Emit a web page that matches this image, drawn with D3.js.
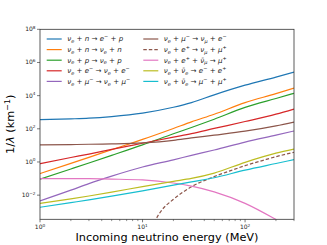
<!DOCTYPE html>
<html lang="en">
<head>
  <meta charset="UTF-8">
  <title>Neutrino mean free path</title>
  <style>
    body { margin: 0; background: white; }
    svg { display: block; font-family: "DejaVu Sans", sans-serif; }
    text { white-space: pre; }
  </style>
  <script src="https://cdn.jsdelivr.net/npm/d3@7"></script>
</head>
<body>
<svg id="chart" width="327" height="245"></svg>
<script>
// energies (MeV) shared by most curves
var energy = [1, 2, 3, 5, 10, 20, 30, 50, 100, 200, 300];
var nuN_cc   = [355, 398, 437, 550, 891, 2000, 3800, 11200, 42700, 132000, 263000];
var nuN_nc   = [0.20, 0.83, 1.9, 5.5, 22.9, 105, 263, 759, 3800, 13200, 28800];
var nuP_nc   = [0.093, 0.38, 0.87, 2.5, 10.7, 50, 120, 380, 1950, 6760, 13800];
var nuE      = [0.79, 1.86, 3.0, 5.75, 13.5, 31.6, 51, 105, 275, 760, 1550];
var nuMu_nc  = [0.0045, 0.02, 0.05, 0.141, 0.50, 1.35, 2.5, 5.25, 15.8, 41.7, 74];
var nuMu_cc  = [10.7, 11.2, 11.7, 12.3, 14.1, 20, 28.2, 41.7, 72.4, 151, 257];
var nuEp_abs = [0.100, 0.100, 0.098, 0.093, 0.083, 0.054, 0.035, 0.0158, 0.0032, 0.00034, 0.00008];
var nuNubar_e  = [0.0032, 0.006, 0.0089, 0.0151, 0.033, 0.068, 0.102, 0.214, 0.955, 3.4, 6.0];
var nuNubar_mu = [0.00186, 0.00355, 0.0052, 0.0087, 0.0182, 0.040, 0.063, 0.112, 0.324, 0.81, 1.38];
// e+ -> nu_mu + mu+ has its own threshold
var energyThr = [12, 13.6, 15, 20, 30, 50, 70, 100, 150, 200, 300];
var nuEp_mu   = [0.00005, 0.00037, 0.001, 0.0056, 0.032, 0.132, 0.28, 0.60, 1.26, 2.09, 3.8];

var labels = [
  "ν_e + n → e^− + p",
  "ν_e + n → ν_e + n",
  "ν_e + p → ν_e + p",
  "ν_e + e^− → ν_e + e^−",
  "ν_e + μ^− → ν_e + μ^−",
  "ν_e + μ^− → ν_μ + e^−",
  "ν_e + e^+ → ν_μ + μ^+",
  "ν_e + e^+ + ν\u0304_μ → μ^+",
  "ν_e + ν\u0304_e → e^− + e^+",
  "ν_e + ν\u0304_e → μ^− + μ^+"
];
var xTicks = [1, 10, 100];
var yTicks = [1e-2, 1, 1e2, 1e4, 1e6, 1e8];

var series = [
  {x: energy, y: nuN_cc, color: "#1f77b4"},
  {x: energy, y: nuN_nc, color: "#ff7f0e"},
  {x: energy, y: nuP_nc, color: "#2ca02c"},
  {x: energy, y: nuE, color: "#d62728"},
  {x: energy, y: nuMu_nc, color: "#9467bd"},
  {x: energy, y: nuMu_cc, color: "#8c564b"},
  {x: energyThr, y: nuEp_mu, color: "#8c564b", dash: "3.5,2"},
  {x: energy, y: nuEp_abs, color: "#e377c2"},
  {x: energy, y: nuNubar_e, color: "#bcbd22"},
  {x: energy, y: nuNubar_mu, color: "#17becf"}
];
series.forEach(function(s, i) { s.label = labels[i]; });

var margin = {left: 40, top: 29.3, right: 33, bottom: 25.7};
var W = 327, H = 245;
var svg = d3.select("#chart");

var x = d3.scaleLog().domain([1, 300]).range([margin.left, W - margin.right]);
var y = d3.scaleLog().domain([3.5e-4, 1e8]).range([H - margin.bottom, margin.top]);

// draws a tiny tex-like label: _x subscript, ^x superscript, {..} groups
function tex(sel, str, fs) {
  var shift = 0;
  for (var i = 0; i < str.length; i++) {
    var ch = str[i], script = 0;
    if (ch === "_" || ch === "^") {
      script = ch === "_" ? 1 : -1;
      i++;
      if (str[i] === "{") {
        var j = str.indexOf("}", i);
        ch = str.slice(i + 1, j);
        i = j;
      } else ch = str[i];
    }
    if (str[i + 1] === "\u0304") { ch += "\u0304"; i++; }
    var target = script === 0 ? 0 : (script > 0 ? 0.25 : -0.42) * fs;
    var ts = sel.append("tspan").attr("dy", target - shift).text(ch);
    shift = target;
    if (script) ts.attr("font-size", fs * 0.7);
    if (/[a-zνμλ]/.test(ch[0])) ts.attr("font-style", "italic");
  }
  if (shift) sel.append("tspan").attr("dy", -shift).text("");
}

svg.append("clipPath").attr("id", "clip").append("rect")
  .attr("x", margin.left).attr("y", margin.top)
  .attr("width", W - margin.left - margin.right)
  .attr("height", H - margin.top - margin.bottom);

var line = d3.line()
  .x(function(d) { return x(d[0]); })
  .y(function(d) { return y(d[1]); })
  .curve(d3.curveMonotoneX);

svg.append("g").attr("clip-path", "url(#clip)")
  .selectAll("path").data(series).enter().append("path")
    .attr("d", function(s) { return line(d3.zip(s.x, s.y)); })
    .attr("fill", "none")
    .attr("stroke", function(s) { return s.color; })
    .attr("stroke-width", 1.2)
    .attr("stroke-dasharray", function(s) { return s.dash || null; });

// axes
var xMinor = [];
[1, 10, 100].forEach(function(b) {
  for (var k = 2; k <= 9; k++) if (b * k <= 300) xMinor.push(b * k);
});
var gx = svg.append("g").attr("transform", "translate(0," + (H - margin.bottom) + ")");
gx.selectAll(".minor").data(xMinor).enter().append("line")
  .attr("x1", x).attr("x2", x).attr("y1", 0).attr("y2", 1.8)
  .attr("stroke", "#222").attr("stroke-width", 0.5);
gx.selectAll(".major").data(xTicks).enter().append("line")
  .attr("x1", x).attr("x2", x).attr("y1", 0).attr("y2", 3)
  .attr("stroke", "#222").attr("stroke-width", 0.6);
gx.selectAll("text").data(xTicks).enter().append("text")
  .attr("x", x).attr("y", 10).attr("text-anchor", "middle")
  .attr("font-size", 6).attr("fill", "#222")
  .each(function(d) { tex(d3.select(this), "10^{" + Math.round(Math.log10(d)) + "}", 6); });

var gy = svg.append("g").attr("transform", "translate(" + margin.left + ",0)");
gy.selectAll("line").data(yTicks).enter().append("line")
  .attr("y1", y).attr("y2", y).attr("x1", 0).attr("x2", -3)
  .attr("stroke", "#222").attr("stroke-width", 0.6);
gy.selectAll("text").data(yTicks).enter().append("text")
  .attr("x", -4.5).attr("y", function(d) { return y(d) + 2; }).attr("text-anchor", "end")
  .attr("font-size", 6).attr("fill", "#222")
  .each(function(d) {
    var e = Math.round(Math.log10(d));
    tex(d3.select(this), "10^{" + (e < 0 ? "−" + (-e) : e) + "}", 6);
  });

svg.append("rect")
  .attr("x", margin.left).attr("y", margin.top)
  .attr("width", W - margin.left - margin.right)
  .attr("height", H - margin.top - margin.bottom)
  .attr("fill", "none").attr("stroke", "#333").attr("stroke-width", 0.8);

// axis titles
svg.append("text")
  .attr("x", (margin.left + W - margin.right) / 2).attr("y", 241)
  .attr("text-anchor", "middle").attr("font-size", 11.3)
  .text("Incoming neutrino energy (MeV)");
var yl = svg.append("text")
  .attr("transform", "translate(14," + ((margin.top + H - margin.bottom) / 2) + ") rotate(-90)")
  .attr("text-anchor", "middle").attr("font-size", 11.3);
yl.append("tspan").text("1/");
yl.append("tspan").attr("font-style", "italic").text("λ");
yl.append("tspan").text(" (km");
yl.append("tspan").attr("font-size", 7.9).attr("dy", -4.5).text("−1");
yl.append("tspan").attr("dy", 4.5).text(")");

// legend
var leg = svg.append("g");
var item = leg.selectAll("g").data(series).enter().append("g")
  .attr("transform", function(s, i) {
    var col = i < 5 ? 0 : 1, row = i % 5;
    return "translate(" + (col ? 143.3 : 46.7) + "," + (39 + row * 10.6) + ")";
  });
item.append("line")
  .attr("x1", 0).attr("x2", 15)
  .attr("stroke", function(s) { return s.color; })
  .attr("stroke-width", 1.2)
  .attr("stroke-dasharray", function(s) { return s.dash || null; });
item.append("text")
  .attr("x", 20.5).attr("y", 2.4)
  .attr("font-size", 7.1).attr("fill", "#222")
  .each(function(s) { tex(d3.select(this), s.label, 7.1); });
</script>
</body>
</html>
